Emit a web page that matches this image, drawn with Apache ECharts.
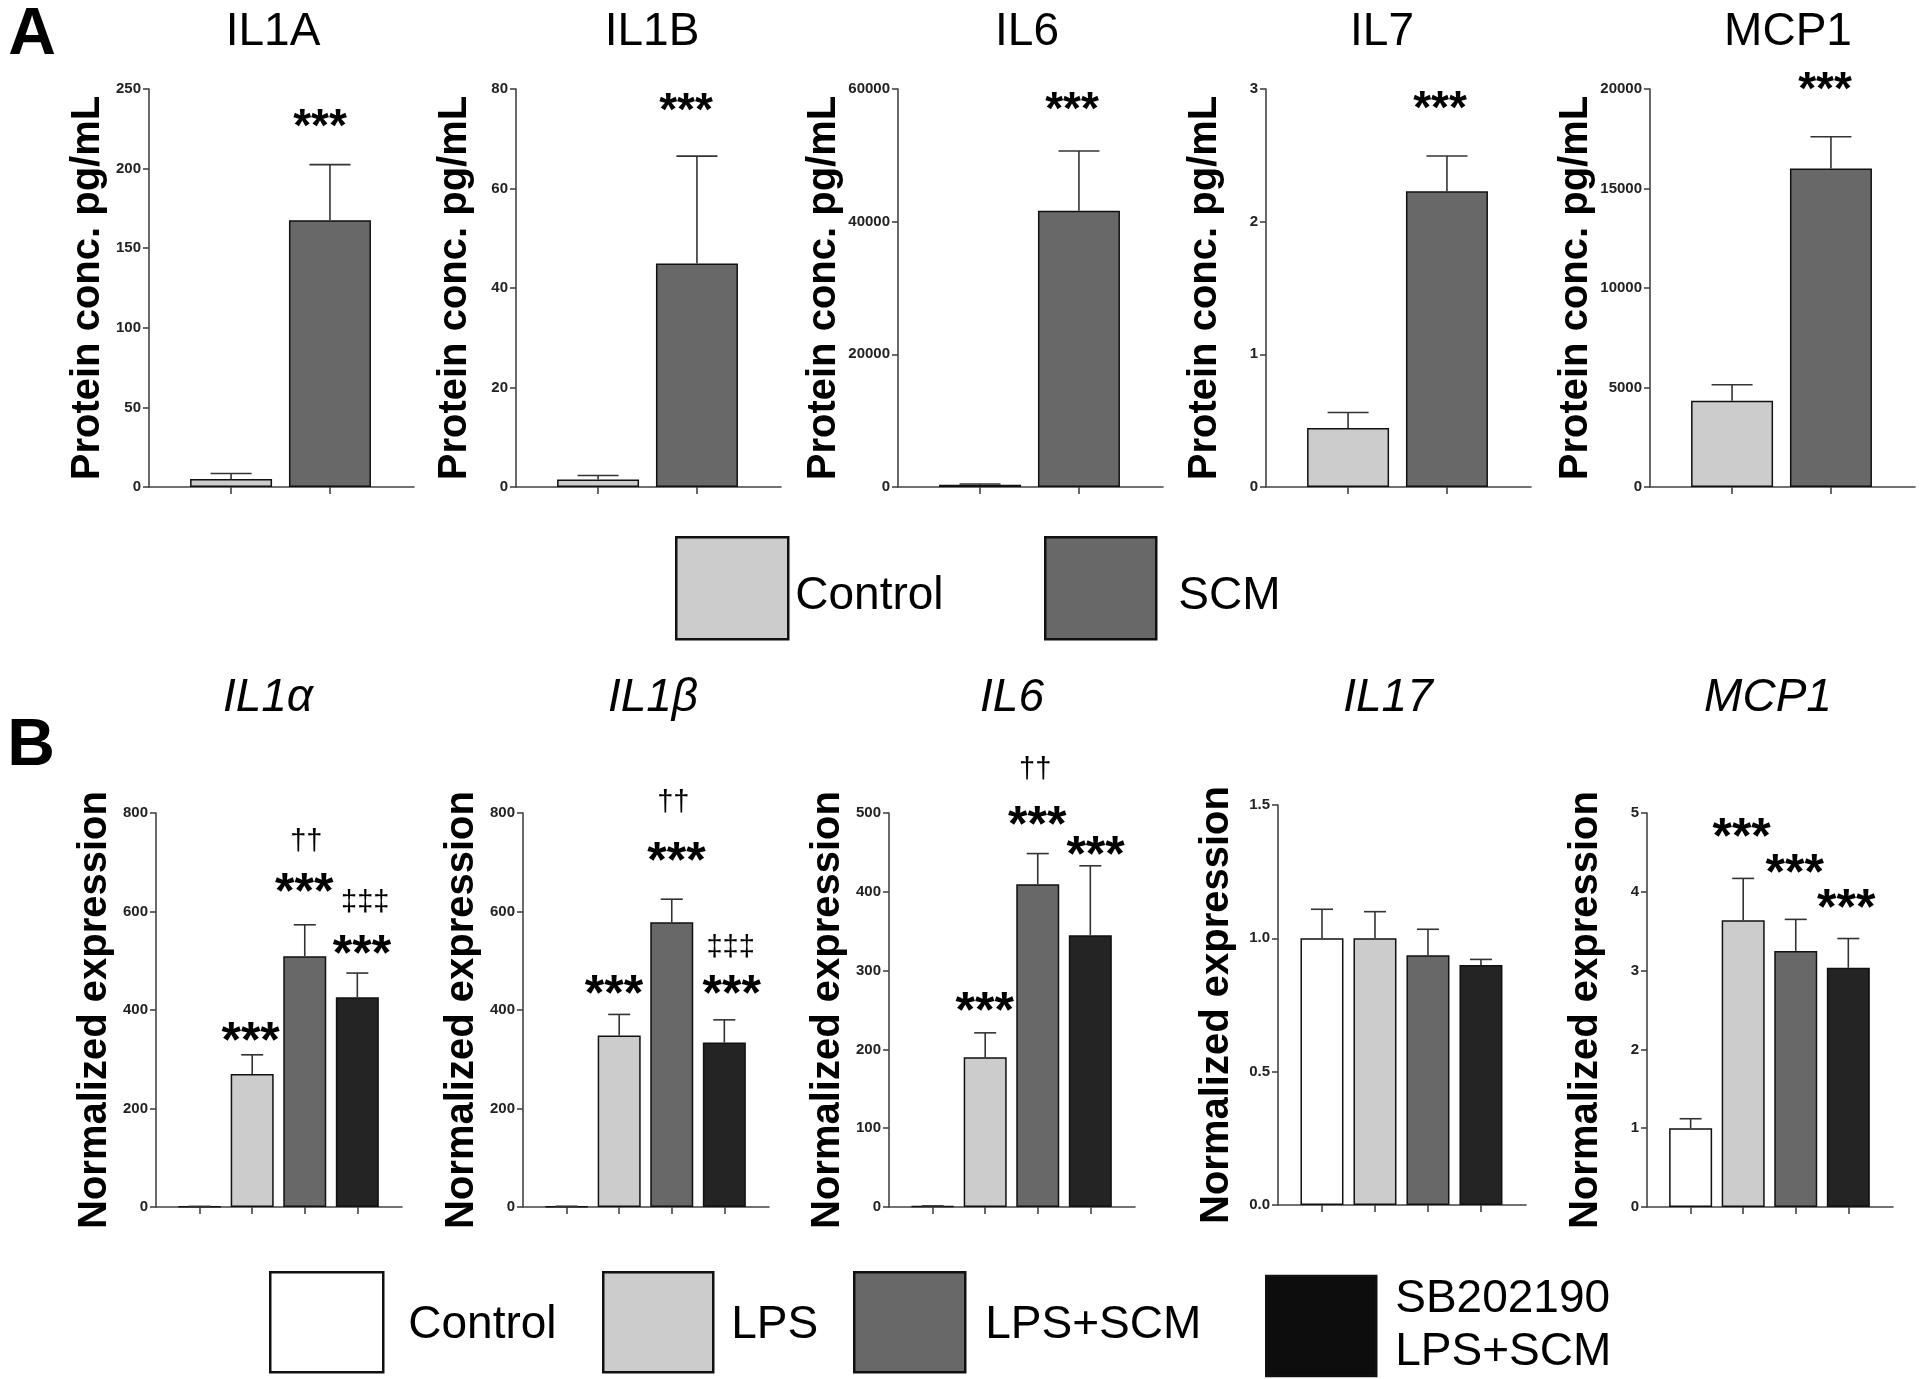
<!DOCTYPE html>
<html><head><meta charset="utf-8">
<script src="https://cdn.jsdelivr.net/npm/echarts@6/dist/echarts.min.js"></script>
<style>html,body{margin:0;padding:0;background:#fff}#c{width:1920px;height:1379px}</style>
</head><body><div id="c"></div>
<script>
// ---------- Panel A: protein concentration (pg/mL) ----------
const aTitles = ['IL1A', 'IL1B', 'IL6', 'IL7', 'MCP1'];
const aGroups = ['Control', 'SCM'];
const aControl = [5.0, 1.5, 350, 0.445, 4340];
const aControlErr = [3.5, 0.8, 100, 0.117, 800];
const aSCM = [167.5, 44.9, 41650, 2.23, 16000];
const aSCMErr = [35, 21.6, 9000, 0.265, 1600];
const aYMax = [250, 80, 60000, 3, 20000];
const aYStep = [50, 20, 20000, 1, 5000];
const aStarX = [0.90, 0.89, 0.93, 0.93, 0.94];
const aStarY = [232.8, 77.7, 58400, 2.927, 20470];
const aYName = 'Protein conc. pg/mL';

// ---------- Panel B: normalized gene expression ----------
const bTitles = ['IL1\u03b1', 'IL1\u03b2', 'IL6', 'IL17', 'MCP1'];
const bGroups = ['Control', 'LPS', 'LPS+SCM', 'SB202190 LPS+SCM'];
const bControl = [1, 1, 1, 1.0, 1.0];
const bControlErr = [0.3, 0.5, 0.4, 0.109, 0.12];
const bLPS = [270, 348, 190, 1.0, 3.64];
const bLPSErr = [39, 43, 31, 0.10, 0.53];
const bLPSSCM = [509, 578, 409.5, 0.937, 3.25];
const bLPSSCMErr = [64, 47, 39, 0.097, 0.40];
const bSB = [426, 334, 345, 0.90, 3.035];
const bSBErr = [49, 46, 88, 0.021, 0.372];
const bYMax = [800, 800, 500, 1.5, 5];
const bYStep = [200, 200, 100, 0.5, 1];
const bYName = 'Normalized expression';
// significance marks: panel, x position (group index), y value, text
const bMarkPanel = [0, 0, 0, 0, 0, 1, 1, 1, 1, 1, 2, 2, 2, 2, 4, 4, 4];
const bMarkX = [0.97, 2.03, 1.99, 3.15, 3.09, 0.90, 2.03, 2.09, 3.12, 3.14, 0.99, 1.95, 1.99, 3.10, 0.97, 1.98, 2.96];
const bMarkY = [358.7, 742, 659.6, 618, 535.2, 454.3, 820, 723.6, 526.6, 454.3, 261.3, 554.3, 497.5, 459.8, 4.824, 4.372, 3.92];
const bMarkText = ['***', '\u2020\u2020', '***', '\u2021\u2021\u2021', '***', '***', '\u2020\u2020', '***', '\u2021\u2021\u2021', '***', '***', '\u2020\u2020', '***', '***', '***', '***', '***'];

// ---------- styling / layout ----------
const FONT = '"Liberation Sans", Arial, Helvetica, sans-serif';
const AX = '#444';
const aColors = ['#cccccc', '#686868'];
const bColors = ['#ffffff', '#cccccc', '#686868', '#242424'];
const aLeft = [149, 516, 898, 1266, 1650];
const bLeft = [156, 523, 889, 1278, 1647];
const aTitleX = [273, 652, 1027, 1382, 1788];
const bTitleX = [268, 653, 1012, 1388, 1768];

const grid = [], xAxis = [], yAxis = [], series = [], graphic = [];

function errRender(capW) {
  return function (params, api) {
    const x = api.value(0), m = api.value(1), e = api.value(2);
    const p0 = api.coord([x, m]), p1 = api.coord([x, m + e]);
    const st = { stroke: '#333', lineWidth: 1.6 };
    return { type: 'group', children: [
      { type: 'line', shape: { x1: p0[0], y1: p0[1], x2: p1[0], y2: p1[1] }, style: st },
      { type: 'line', shape: { x1: p1[0] - capW / 2, y1: p1[1], x2: p1[0] + capW / 2, y2: p1[1] }, style: st }
    ]};
  };
}

function markRender(texts, starSize, dagSize) {
  return function (params, api) {
    const p = api.coord([api.value(0), api.value(1)]);
    const t = texts[params.dataIndex];
    const star = t.indexOf('*') >= 0;
    const fs = star ? starSize : dagSize;
    return { type: 'text', x: p[0], y: p[1] + (star ? fs * 0.25 : 0),
      style: { text: t, fontSize: fs, fontWeight: star ? 'bold' : 'normal', fontFamily: FONT,
        fill: '#000', align: 'center', verticalAlign: 'middle' } };
  };
}

function plainFmt(v) { return String(v); }

function addPanel(k, left, top, width, height, nCat, yMax, yStep, yName, fmt) {
  grid.push({ left: left, top: top, width: width, height: height });
  xAxis.push({ type: 'value', gridIndex: k, min: -0.83, max: nCat - 1 + 0.85,
    axisLine: { show: true, onZero: false, lineStyle: { color: AX, width: 1.6 } },
    axisTick: { show: true, customValues: Array.from({ length: nCat }, (_, i) => i), length: 7, lineStyle: { color: AX, width: 1.6 } },
    axisLabel: { show: false }, splitLine: { show: false } });
  yAxis.push({ type: 'value', gridIndex: k, min: 0, max: yMax, interval: yStep,
    axisLine: { show: true, onZero: false, lineStyle: { color: AX, width: 1.6 } },
    axisTick: { show: true, length: 6, lineStyle: { color: AX, width: 1.6 } },
    axisLabel: { fontSize: 15, fontWeight: 'bold', color: '#222', fontFamily: FONT, margin: 8, formatter: fmt },
    splitLine: { show: false },
    name: yName, nameLocation: 'middle', nameRotate: 90, nameGap: 41,
    nameTextStyle: { fontSize: 40, fontWeight: 'bold', color: '#000', fontFamily: FONT } });
}

// Panel A
for (let k = 0; k < 5; k++) {
  addPanel(k, aLeft[k], 89, 265, 398, 2, aYMax[k], aYStep[k], aYName, plainFmt);
  const vals = [aControl[k], aSCM[k]], errs = [aControlErr[k], aSCMErr[k]];
  aGroups.forEach((g, j) => series.push({ type: 'bar', name: 'A\u00b7' + g, xAxisIndex: k, yAxisIndex: k,
    data: [[j, vals[j]]], barWidth: 82, barGap: '-100%', silent: true,
    itemStyle: { color: aColors[j], borderColor: '#111', borderWidth: 1.5 } }));
  series.push({ type: 'custom', xAxisIndex: k, yAxisIndex: k, clip: false, silent: true, z: 3,
    data: vals.map((v, j) => [j, v, errs[j]]), renderItem: errRender(41) });
  series.push({ type: 'custom', xAxisIndex: k, yAxisIndex: k, clip: false, silent: true, z: 4,
    data: [[aStarX[k], aStarY[k]]], renderItem: markRender(['***'], 46, 28) });
  graphic.push({ type: 'text', x: aTitleX[k], y: 32, style: { text: aTitles[k], fontSize: 46, fontFamily: FONT, fill: '#000', align: 'center', verticalAlign: 'middle' } });
}

// Panel B
for (let k = 0; k < 5; k++) {
  const gi = 5 + k;
  const top = k === 3 ? 805 : 813, h = k === 3 ? 400 : 394, w = k === 3 ? 248 : 246;
  addPanel(gi, bLeft[k], top, w, h, 4, bYMax[k], bYStep[k], bYName, k === 3 ? (v => v.toFixed(1)) : plainFmt);
  const vals = [bControl[k], bLPS[k], bLPSSCM[k], bSB[k]];
  const errs = [bControlErr[k], bLPSErr[k], bLPSSCMErr[k], bSBErr[k]];
  bGroups.forEach((g, j) => series.push({ type: 'bar', name: 'B\u00b7' + g, xAxisIndex: gi, yAxisIndex: gi,
    data: [[j, vals[j]]], barWidth: 43, barGap: '-100%', silent: true,
    itemStyle: { color: bColors[j], borderColor: '#111', borderWidth: 1.5 } }));
  series.push({ type: 'custom', xAxisIndex: gi, yAxisIndex: gi, clip: false, silent: true, z: 3,
    data: vals.map((v, j) => [j, v, errs[j]]), renderItem: errRender(22) });
  const idx = bMarkPanel.map((p, i) => p === k ? i : -1).filter(i => i >= 0);
  if (idx.length) {
    series.push({ type: 'custom', xAxisIndex: gi, yAxisIndex: gi, clip: false, silent: true, z: 4,
      data: idx.map(i => [bMarkX[i], bMarkY[i]]), renderItem: markRender(idx.map(i => bMarkText[i]), 50, 29) });
  }
  graphic.push({ type: 'text', x: bTitleX[k], y: 698, style: { text: bTitles[k], fontSize: 46, fontStyle: 'italic', fontFamily: FONT, fill: '#000', align: 'center', verticalAlign: 'middle' } });
}

graphic.push({ type: 'text', x: 32, y: 36, style: { text: 'A', fontSize: 66, fontWeight: 'bold', fontFamily: FONT, fill: '#000', align: 'center', verticalAlign: 'middle' } });
graphic.push({ type: 'text', x: 31, y: 747, style: { text: 'B', fontSize: 66, fontWeight: 'bold', fontFamily: FONT, fill: '#000', align: 'center', verticalAlign: 'middle' } });

function leg(name, label, left, top, w, h, pad, padTop, lh) {
  return { data: [name], formatter: '{t|' + label + '}', left: left, top: top, padding: 0,
    itemWidth: w, itemHeight: h, icon: 'rect', selectedMode: false,
    itemStyle: { borderWidth: 2.5, borderColor: '#111' },
    textStyle: { rich: { t: { fontSize: 46, color: '#000', fontFamily: FONT, lineHeight: lh || 54, padding: [padTop, 0, 0, pad] } } } };
}
const legend = [
  leg('A\u00b7Control', 'Control', 675, 536, 112, 102, 2, 17),
  leg('A\u00b7SCM', 'SCM', 1044, 536, 111, 102, 17, 17),
  leg('B\u00b7Control', 'Control', 269, 1271, 113, 100, 20, 6),
  leg('B\u00b7LPS', 'LPS', 602, 1271, 110, 100, 13, 6),
  leg('B\u00b7LPS+SCM', 'LPS+SCM', 853, 1271, 111, 100, 15, 6)
];
legend.push({ data: [{ name: 'B\u00b7SB202190 LPS+SCM', itemStyle: { color: '#0d0d0d' } }],
  formatter: 'SB202190\nLPS+SCM', left: 1265, top: 1271, padding: 0, itemWidth: 110, itemHeight: 100,
  icon: 'rect', selectedMode: false, itemStyle: { borderWidth: 2.5, borderColor: '#111' },
  textStyle: { fontSize: 46, color: '#000', fontFamily: FONT, lineHeight: 53, padding: [4, 0, 0, 14] } });

const chart = echarts.init(document.getElementById('c'), null, { renderer: 'canvas' });
chart.setOption({ backgroundColor: '#fff', animation: false, grid, xAxis, yAxis, series, legend, graphic });
</script></body></html>
